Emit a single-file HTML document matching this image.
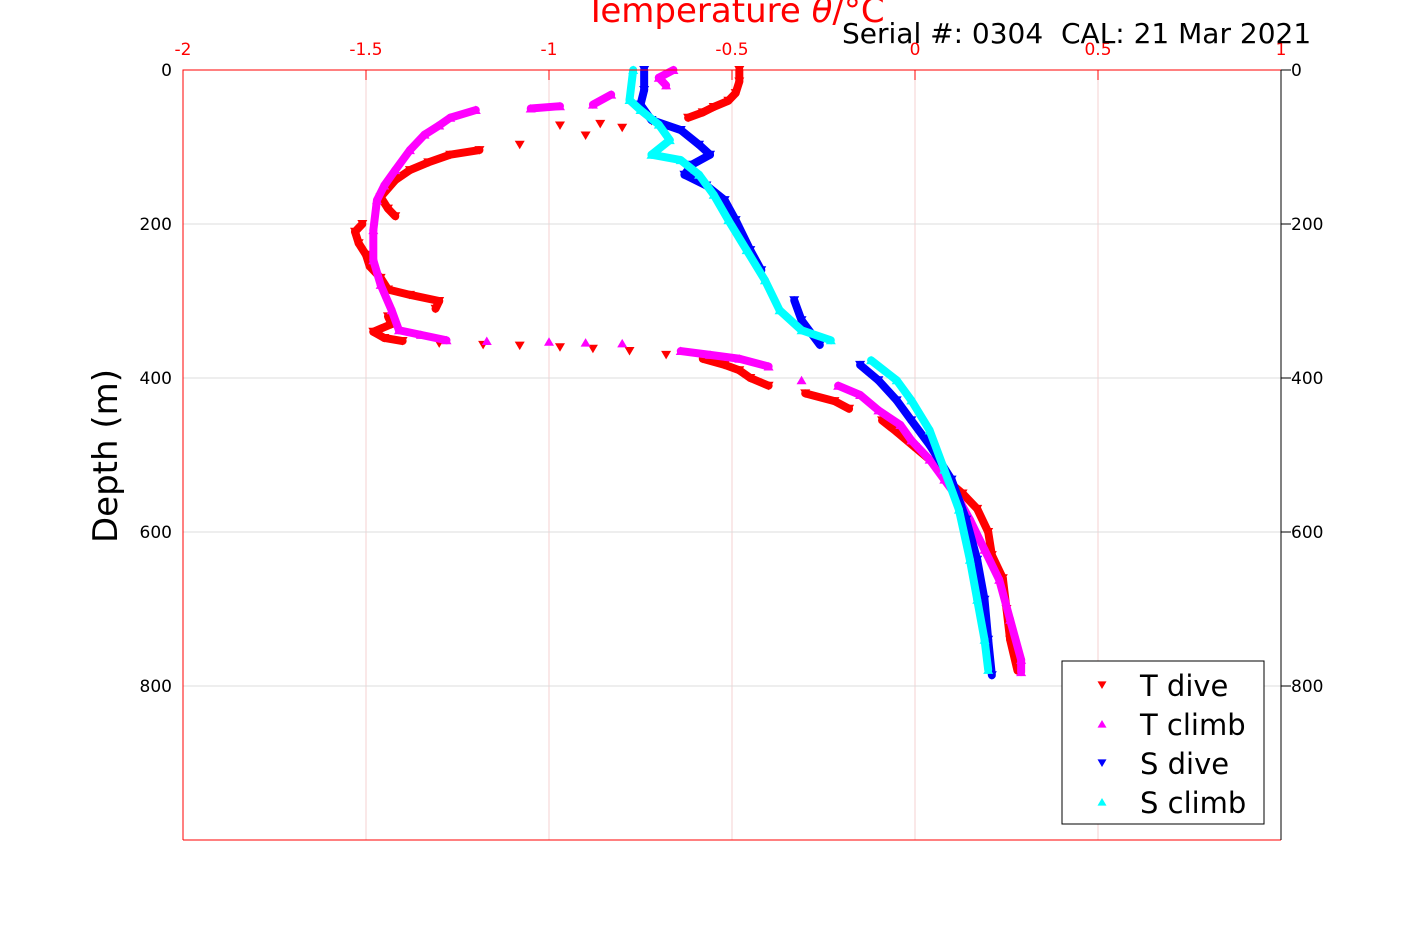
<!DOCTYPE html>
<html><head><meta charset="utf-8"><style>
html,body{margin:0;padding:0;background:#fff;}
svg{display:block;font-family:"DejaVu Sans","Liberation Sans",sans-serif;}
</style></head><body>
<svg id="chart" width="1417" height="945" viewBox="0 0 1417 945" xmlns="http://www.w3.org/2000/svg">
<rect width="1417" height="945" fill="#fff"/>
<g id="grid"></g>
<g id="series"></g>
<g id="axes"></g>
<text x="735" y="22" text-anchor="middle" font-size="34" fill="#ff0000">Temperature <tspan font-style="italic">θ</tspan>/°C</text>
<text x="842" y="43" font-size="28" fill="#000" style="white-space:pre" xml:space="preserve">Serial #: 0304  CAL: 21 Mar 2021</text>
<text transform="translate(117,456) rotate(-90)" text-anchor="middle" font-size="34" fill="#000">Depth (m)</text>
<g id="legend"></g>
</svg>
<script>
const xTicks=[-2,-1.5,-1,-0.5,0,0.5,1];
const xTickLabels=["-2","-1.5","-1","-0.5","0","0.5","1"];
const yTicks=[0,200,400,600,800];
const yTickLabels=["0","200","400","600","800"];
const seriesNames=["T dive","T climb","S dive","S climb"];
const seriesColors=["#ff0000","#ff00ff","#0000ff","#00ffff"];
const seriesDown=[true,false,true,false];
const tDiveDepth=[0,15,30,40,48,55,62,66,70,72,75,85,97,104,110,120,130,143,165,180,190,200,210,225,240,255,270,285,292,300,310,320,330,340,348,352,355,357,358,360,362,365,370,375,383,390,400,410,420,430,440,455,470,490,510,530,550,570,600,630,660,700,740,780];
const tDiveTemp=[-0.48,-0.48,-0.49,-0.51,-0.55,-0.58,-0.62,-0.72,-0.86,-0.97,-0.8,-0.9,-1.08,-1.19,-1.27,-1.33,-1.38,-1.42,-1.46,-1.44,-1.42,-1.51,-1.53,-1.52,-1.5,-1.49,-1.46,-1.44,-1.38,-1.3,-1.31,-1.44,-1.43,-1.48,-1.45,-1.4,-1.3,-1.18,-1.08,-0.97,-0.88,-0.78,-0.68,-0.58,-0.52,-0.48,-0.45,-0.4,-0.3,-0.22,-0.18,-0.09,-0.05,0,0.05,0.08,0.13,0.17,0.2,0.21,0.24,0.25,0.26,0.28];
const tClimbDepth=[0,10,20,32,45,47,50,52,62,72,84,104,130,150,169,208,247,279,312,338,344,351,352,353,354,355,365,370,375,385,403,410,422,442,461,481,506,532,558,584,623,662,714,766,782];
const tClimbTemp=[-0.66,-0.7,-0.68,-0.83,-0.88,-0.97,-1.05,-1.2,-1.27,-1.3,-1.34,-1.38,-1.42,-1.45,-1.47,-1.48,-1.48,-1.46,-1.43,-1.41,-1.35,-1.28,-1.17,-1.0,-0.9,-0.8,-0.64,-0.56,-0.48,-0.4,-0.31,-0.21,-0.15,-0.1,-0.04,-0.01,0.04,0.08,0.12,0.15,0.19,0.23,0.26,0.29,0.29];
const sDiveDepth=[0,26,45,65,78,97,110,123,136,150,169,195,234,260,299,325,357,383,403,429,455,487,532,584,636,688,740,786];
const sDiveTemp=[-0.74,-0.74,-0.75,-0.72,-0.64,-0.59,-0.56,-0.61,-0.63,-0.57,-0.52,-0.49,-0.45,-0.42,-0.33,-0.31,-0.26,-0.15,-0.1,-0.05,-0.01,0.04,0.1,0.14,0.17,0.19,0.2,0.21];
const sClimbDepth=[0,39,52,71,91,110,117,136,162,195,234,273,312,338,351,377,403,429,468,519,571,636,688,740,779];
const sClimbTemp=[-0.77,-0.78,-0.75,-0.7,-0.67,-0.72,-0.64,-0.59,-0.55,-0.51,-0.46,-0.41,-0.37,-0.31,-0.23,-0.12,-0.05,-0.01,0.04,0.08,0.12,0.15,0.17,0.19,0.2];

const NS="http://www.w3.org/2000/svg";
const L=183,R=1281,T=70,B=840;
const xMin=-2,xMax=1,yMin=0,yMax=1000;
function xs(v){return L+(v-xMin)/(xMax-xMin)*(R-L);}
function ys(v){return T+(v-yMin)/(yMax-yMin)*(B-T);}
function mk(tag,attrs,parent){const e=document.createElementNS(NS,tag);for(const k in attrs)e.setAttribute(k,attrs[k]);parent.appendChild(e);return e;}
const grid=document.getElementById('grid'),axes=document.getElementById('axes'),ser=document.getElementById('series'),leg=document.getElementById('legend');

xTicks.forEach((v,i)=>{
  const g=mk('line',{x1:xs(v),x2:xs(v),y1:T,y2:B,stroke:'#f6d0d0','stroke-width':1},grid);
  
  
  const tk=mk('line',{x1:xs(v),x2:xs(v),y1:T,y2:T+10,stroke:'#ff0000','stroke-width':1},axes);
  
  
  const t=mk('text',{x:xs(v),y:55,'text-anchor':'middle','font-size':17,fill:'#ff0000'},axes);
  
  
  t.textContent=xTickLabels[i];
});
yTicks.forEach((v,i)=>{
  const g=mk('line',{x1:L,x2:R,y1:ys(v),y2:ys(v),stroke:'#dcdcdc','stroke-width':1},grid);
  
  
  const tk=mk('line',{x1:R,x2:R+10,y1:ys(v),y2:ys(v),stroke:'#000','stroke-width':1},axes);
  
  
  const t=mk('text',{x:172,y:ys(v)+6,'text-anchor':'end','font-size':17,fill:'#000'},axes);
  
  
  t.textContent=yTickLabels[i];
  const t2=mk('text',{x:1291,y:ys(v)+6,'text-anchor':'start','font-size':17,fill:'#000'},axes);
  
  
  t2.textContent=yTickLabels[i];
});
const fr=mk('path',{d:`M${L},${B}L${L},${T}L${R},${T}M${L},${B}L${R},${B}`,fill:'none',stroke:'#ff0000','stroke-width':1},axes);


const ra=mk('line',{x1:R,x2:R,y1:T,y2:B,stroke:'#000','stroke-width':1},axes);



function tri(cx,cy,down,s){return down?`M${cx-s},${cy-s*0.8}L${cx+s},${cy-s*0.8}L${cx},${cy+s*0.9}Z`:`M${cx-s},${cy+s*0.8}L${cx+s},${cy+s*0.8}L${cx},${cy-s*0.9}Z`;}
const depths=[tDiveDepth,tClimbDepth,sDiveDepth,sClimbDepth];
const temps=[tDiveTemp,tClimbTemp,sDiveTemp,sClimbTemp];
const slugs=['t-dive','t-climb','s-dive','s-climb'];
depths.forEach((dArr,si)=>{
  const g=mk('g',{},ser);
  
  
  const col=seriesColors[si];
  for(let i=1;i<dArr.length;i++){
    const x1=xs(temps[si][i-1]),y1=ys(dArr[i-1]),x2=xs(temps[si][i]),y2=ys(dArr[i]);
    if(Math.abs(x2-x1)<32){
      const ln=mk('line',{x1:x1,y1:y1,x2:x2,y2:y2,stroke:col,'stroke-width':8,'stroke-linecap':'round'},g);
      
      
    }
  }
  dArr.forEach((d,i)=>{
    const p=mk('path',{d:tri(xs(temps[si][i]),ys(d),seriesDown[si],5),fill:col},g);
    
    
  });
});

const box=mk('rect',{x:1062,y:661,width:202,height:163,fill:'#fff',stroke:'#000','stroke-width':1},leg);


seriesNames.forEach((n,i)=>{
  const y=685+i*39;
  const p=mk('path',{d:tri(1102,y,seriesDown[i],4.5),fill:seriesColors[i]},leg);
  
  
  const t=mk('text',{x:1140,y:y+11,'font-size':29,fill:'#000'},leg);
  
  
  t.textContent=n;
});
</script>
</body></html>
